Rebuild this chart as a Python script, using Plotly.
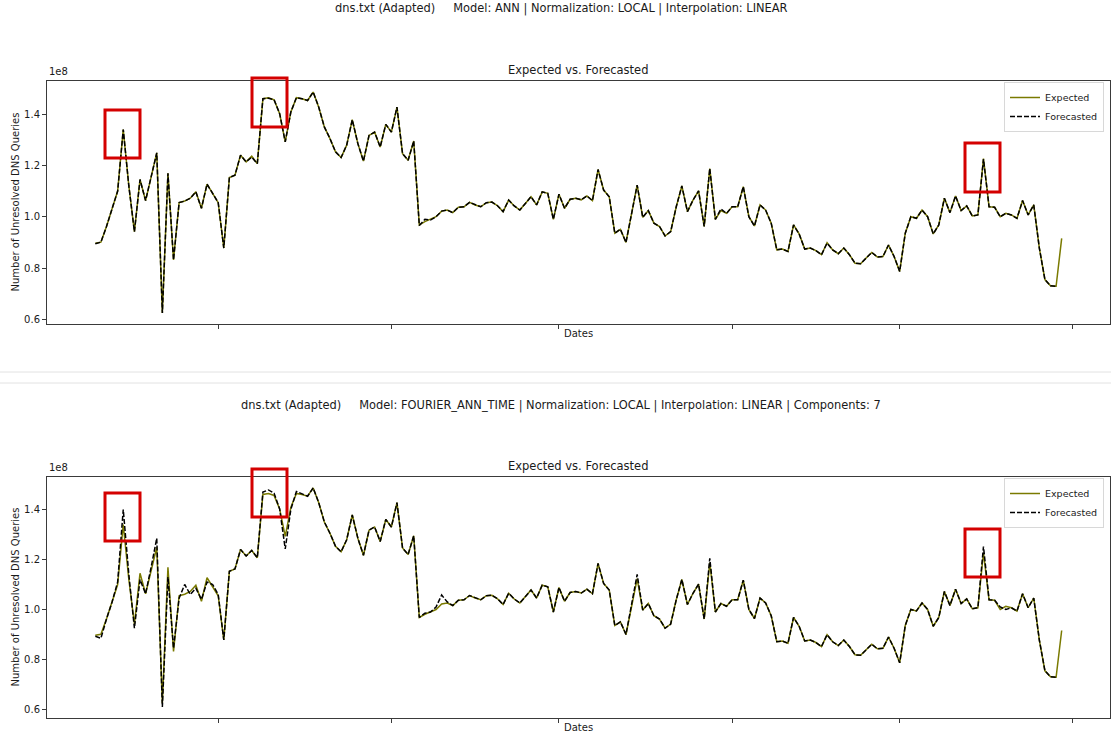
import pandas as pd
import plotly.graph_objects as go

# ---------------------------------------------------------------- data
START_DATE = "2019-02-07"

# Daily number of unresolved DNS queries (in units of 1e8)
expected = [
    0.897, 0.901, 0.962, 1.030, 1.100, 1.340, 1.120, 0.942, 1.145, 1.063,
    1.156, 1.249, 0.625, 1.169, 0.832, 1.055, 1.061, 1.072, 1.097, 1.033,
    1.127, 1.091, 1.055, 0.878, 1.153, 1.162, 1.240, 1.214, 1.236, 1.207,
    1.460, 1.464, 1.456, 1.402, 1.292, 1.408, 1.464, 1.460, 1.453, 1.486,
    1.427, 1.350, 1.305, 1.253, 1.231, 1.279, 1.378, 1.285, 1.217, 1.317,
    1.330, 1.272, 1.360, 1.330, 1.427, 1.246, 1.220, 1.295, 0.968, 0.981,
    0.990, 1.000, 1.022, 1.026, 1.016, 1.037, 1.039, 1.056, 1.046, 1.039,
    1.055, 1.057, 1.043, 1.020, 1.065, 1.042, 1.026, 1.052, 1.078, 1.046,
    1.097, 1.091, 0.990, 1.088, 1.033, 1.068, 1.072, 1.066, 1.081, 1.063,
    1.184, 1.104, 1.078, 0.936, 0.951, 0.900, 1.013, 1.123, 0.998, 1.024,
    0.975, 0.962, 0.925, 0.942, 1.039, 1.120, 1.020, 1.065, 1.101, 0.962,
    1.188, 0.990, 1.024, 1.013, 1.039, 1.039, 1.117, 1.000, 0.964, 1.046,
    1.026, 0.975, 0.871, 0.874, 0.865, 0.968, 0.933, 0.874, 0.878, 0.868,
    0.852, 0.899, 0.871, 0.856, 0.878, 0.852, 0.819, 0.817, 0.839, 0.861,
    0.843, 0.845, 0.890, 0.845, 0.787, 0.936, 1.000, 0.994, 1.026, 1.000,
    0.933, 0.968, 1.072, 1.016, 1.081, 1.024, 1.042, 1.003, 1.007, 1.227,
    1.039, 1.037, 1.000, 1.013, 1.007, 0.994, 1.063, 1.007, 1.046, 0.878,
    0.755, 0.731, 0.729, 0.916,
]

# ANN model forecast
forecast_ann = [
    0.895, 0.901, 0.962, 1.028, 1.100, 1.340, 1.120, 0.942, 1.145, 1.063,
    1.156, 1.249, 0.625, 1.169, 0.832, 1.055, 1.061, 1.072, 1.097, 1.033,
    1.127, 1.091, 1.055, 0.878, 1.153, 1.162, 1.240, 1.214, 1.232, 1.207,
    1.460, 1.462, 1.456, 1.402, 1.292, 1.408, 1.464, 1.460, 1.453, 1.486,
    1.427, 1.350, 1.305, 1.253, 1.231, 1.279, 1.378, 1.285, 1.217, 1.317,
    1.330, 1.272, 1.360, 1.330, 1.427, 1.246, 1.220, 1.295, 0.966, 0.990,
    0.987, 1.000, 1.022, 1.026, 1.016, 1.037, 1.039, 1.056, 1.046, 1.039,
    1.055, 1.057, 1.043, 1.020, 1.065, 1.042, 1.026, 1.052, 1.078, 1.046,
    1.097, 1.091, 0.990, 1.088, 1.033, 1.068, 1.072, 1.066, 1.081, 1.063,
    1.184, 1.104, 1.078, 0.936, 0.951, 0.900, 1.013, 1.123, 0.998, 1.024,
    0.975, 0.962, 0.925, 0.942, 1.039, 1.120, 1.020, 1.065, 1.101, 0.962,
    1.188, 0.990, 1.030, 1.013, 1.039, 1.039, 1.117, 1.000, 0.964, 1.046,
    1.026, 0.975, 0.871, 0.874, 0.865, 0.968, 0.933, 0.874, 0.878, 0.868,
    0.852, 0.897, 0.871, 0.856, 0.878, 0.852, 0.819, 0.817, 0.839, 0.861,
    0.843, 0.845, 0.890, 0.845, 0.787, 0.936, 1.000, 0.994, 1.026, 1.000,
    0.933, 0.968, 1.072, 1.016, 1.081, 1.024, 1.042, 1.003, 1.007, 1.225,
    1.039, 1.037, 1.000, 1.013, 1.007, 0.994, 1.063, 1.007, 1.046, 0.878,
    0.755, 0.731, 0.729,
]

# FOURIER_ANN_TIME model forecast
forecast_fourier = [
    0.893, 0.885, 0.962, 1.030, 1.110, 1.400, 1.140, 0.925, 1.120, 1.063,
    1.170, 1.285, 0.610, 1.130, 0.845, 1.045, 1.100, 1.060, 1.085, 1.040,
    1.110, 1.100, 1.060, 0.878, 1.153, 1.162, 1.240, 1.214, 1.236, 1.207,
    1.470, 1.478, 1.465, 1.402, 1.242, 1.400, 1.472, 1.462, 1.453, 1.486,
    1.427, 1.350, 1.305, 1.253, 1.231, 1.279, 1.378, 1.285, 1.217, 1.317,
    1.330, 1.272, 1.360, 1.330, 1.427, 1.246, 1.220, 1.295, 0.968, 0.985,
    0.990, 1.010, 1.058, 1.030, 1.016, 1.037, 1.039, 1.056, 1.046, 1.039,
    1.055, 1.057, 1.043, 1.020, 1.065, 1.042, 1.026, 1.052, 1.078, 1.046,
    1.097, 1.091, 0.990, 1.088, 1.033, 1.068, 1.072, 1.066, 1.081, 1.063,
    1.184, 1.104, 1.078, 0.936, 0.951, 0.900, 1.013, 1.140, 0.998, 1.024,
    0.975, 0.962, 0.925, 0.942, 1.039, 1.120, 1.020, 1.065, 1.101, 0.962,
    1.205, 0.990, 1.024, 1.013, 1.039, 1.039, 1.117, 1.000, 0.964, 1.046,
    1.026, 0.975, 0.871, 0.874, 0.865, 0.968, 0.933, 0.874, 0.878, 0.868,
    0.852, 0.899, 0.871, 0.856, 0.878, 0.852, 0.819, 0.817, 0.839, 0.861,
    0.843, 0.845, 0.890, 0.845, 0.787, 0.936, 1.000, 0.994, 1.026, 1.000,
    0.933, 0.968, 1.072, 1.016, 1.081, 1.024, 1.042, 1.003, 1.007, 1.252,
    1.039, 1.037, 1.010, 1.000, 1.007, 0.994, 1.063, 1.007, 1.046, 0.878,
    0.755, 0.731, 0.729,
]

SUPTITLES = [
    "dns.txt (Adapted)     Model: ANN | Normalization: LOCAL | Interpolation: LINEAR",
    "dns.txt (Adapted)     Model: FOURIER_ANN_TIME | Normalization: LOCAL | "
    "Interpolation: LINEAR | Components: 7",
]
PANEL_TITLE = "Expected vs. Forecasted"
X_LABEL = "Dates"
Y_LABEL = "Number of Unresolved DNS Queries"
Y_TICKS = [0.6, 0.8, 1.0, 1.2, 1.4]

# ---------------------------------------------------------------- layout helpers
W, H = 1111, 734
FONT = "DejaVu Sans Condensed, DejaVu Sans, sans-serif"
PLAIN = "DejaVu Sans, sans-serif"
TXT = "#1a1a1a"
SPINE = "#3a3a3a"
EXPECTED_COLOR = "#7a7a00"
RED = "#d40000"


def px_x(v):
    return v / W


def px_y(v):
    return 1 - v / H


dates = pd.date_range(START_DATE, periods=len(expected), freq="D")
span = dates[-1] - dates[0]
x_range = [dates[0] - span * 0.05, dates[-1] + span * 0.05]
month_ticks = pd.date_range(dates[0].to_period("M").to_timestamp() + pd.offsets.MonthBegin(1),
                            dates[-1] + pd.offsets.MonthBegin(1), freq="MS")


def y_range(*series):
    lo = min(min(s) for s in series)
    hi = max(max(s) for s in series)
    pad = (hi - lo) * 0.05
    return [lo - pad, hi + pad]


# panel boxes in pixels: (top, bottom)
panels = [(81, 324), (477, 718)]
x_dom = [px_x(47), px_x(1110)]

fig = go.Figure()

forecasts = [forecast_ann, forecast_fourier]
for i, fc in enumerate(forecasts):
    sfx = "" if i == 0 else str(i + 1)
    leg = "legend" if i == 0 else "legend2"
    fig.add_trace(go.Scatter(
        x=dates, y=expected, mode="lines", name="Expected",
        line=dict(color=EXPECTED_COLOR, width=1.5),
        xaxis="x" + sfx, yaxis="y" + sfx, legend=leg, hoverinfo="skip"))
    fig.add_trace(go.Scatter(
        x=dates[:len(fc)], y=fc, mode="lines", name="Forecasted",
        line=dict(color="black", width=1.5, dash="5px,2px"),
        xaxis="x" + sfx, yaxis="y" + sfx, legend=leg, hoverinfo="skip"))

axis_common = dict(showline=True, mirror=True, linecolor=SPINE, linewidth=1,
                   ticks="outside", ticklen=4, tickcolor=SPINE, tickwidth=1,
                   showgrid=False, zeroline=False)

layout = dict(
    width=W, height=H, margin=dict(l=0, r=0, t=0, b=0),
    paper_bgcolor="white", plot_bgcolor="white",
    font=dict(family=FONT, color=TXT, size=10),
    annotations=[], shapes=[],
)

for i, (top, bot) in enumerate(panels):
    sfx = "" if i == 0 else str(i + 1)
    y_dom = [px_y(bot), px_y(top)]
    layout["xaxis" + sfx] = dict(
        axis_common, type="date", domain=x_dom, range=x_range,
        tickvals=list(month_ticks), showticklabels=False,
        anchor="y" + sfx)
    layout["yaxis" + sfx] = dict(
        axis_common, domain=y_dom, range=y_range(expected, forecasts[i]),
        tickvals=Y_TICKS, tickformat=".1f", automargin=False,
        tickfont=dict(family=PLAIN, size=10, color=TXT),
        anchor="x" + sfx)
    leg = "legend" if i == 0 else "legend2"
    layout[leg] = dict(
        x=px_x(1104), xanchor="right", y=px_y(top + 1), yanchor="top",
        bgcolor="rgba(255,255,255,0.85)", bordercolor="#d8d8d8", borderwidth=1,
        font=dict(family=PLAIN, size=9.5, color=TXT),
        itemwidth=30, tracegroupgap=0)

    # figure-level title above each panel
    layout["annotations"].append(dict(
        text=SUPTITLES[i], x=px_x(561), y=px_y(top - 73 if i == 0 else top - 72),
        xref="paper", yref="paper", showarrow=False, xanchor="center", yanchor="middle",
        font=dict(family=FONT, size=12.7, color=TXT)))
    # axes title
    layout["annotations"].append(dict(
        text=PANEL_TITLE, x=px_x(578), y=px_y(top - 11),
        xref="paper", yref="paper", showarrow=False, xanchor="center", yanchor="middle",
        font=dict(family=PLAIN, size=11.5, color=TXT)))
    # x label
    layout["annotations"].append(dict(
        text=X_LABEL, x=px_x(578), y=px_y(bot + 9),
        xref="paper", yref="paper", showarrow=False, xanchor="center", yanchor="middle",
        font=dict(family=PLAIN, size=10, color=TXT)))
    # y label
    layout["annotations"].append(dict(
        text=Y_LABEL, x=px_x(15), y=px_y((top + bot) / 2),
        xref="paper", yref="paper", showarrow=False, textangle=-90,
        xanchor="center", yanchor="middle",
        font=dict(family=PLAIN, size=10, color=TXT)))
    # scale offset text
    layout["annotations"].append(dict(
        text="1e8", x=px_x(47), y=px_y(top - 2),
        xref="paper", yref="paper", showarrow=False, xanchor="left", yanchor="bottom",
        font=dict(family=PLAIN, size=10, color=TXT)))

# highlight boxes (pixel rectangles: x0, y0, x1, y1)
highlight_boxes = [
    (105, 110, 140, 158), (252, 78, 287, 127), (965, 143, 1000, 192),
    (105, 493, 140, 541), (252, 469, 287, 517), (965, 529, 1000, 577),
]
for x0, y0, x1, y1 in highlight_boxes:
    layout["shapes"].append(dict(
        type="rect", xref="paper", yref="paper",
        x0=px_x(x0), x1=px_x(x1), y0=px_y(y1), y1=px_y(y0),
        line=dict(color=RED, width=3), fillcolor="rgba(0,0,0,0)"))

# thin rules separating the two figures
for yy in (372, 383):
    layout["shapes"].append(dict(
        type="line", xref="paper", yref="paper", x0=0, x1=1,
        y0=px_y(yy), y1=px_y(yy), line=dict(color="#e2e2e2", width=1)))

fig.update_layout(**layout)
fig.write_html("out.html")
